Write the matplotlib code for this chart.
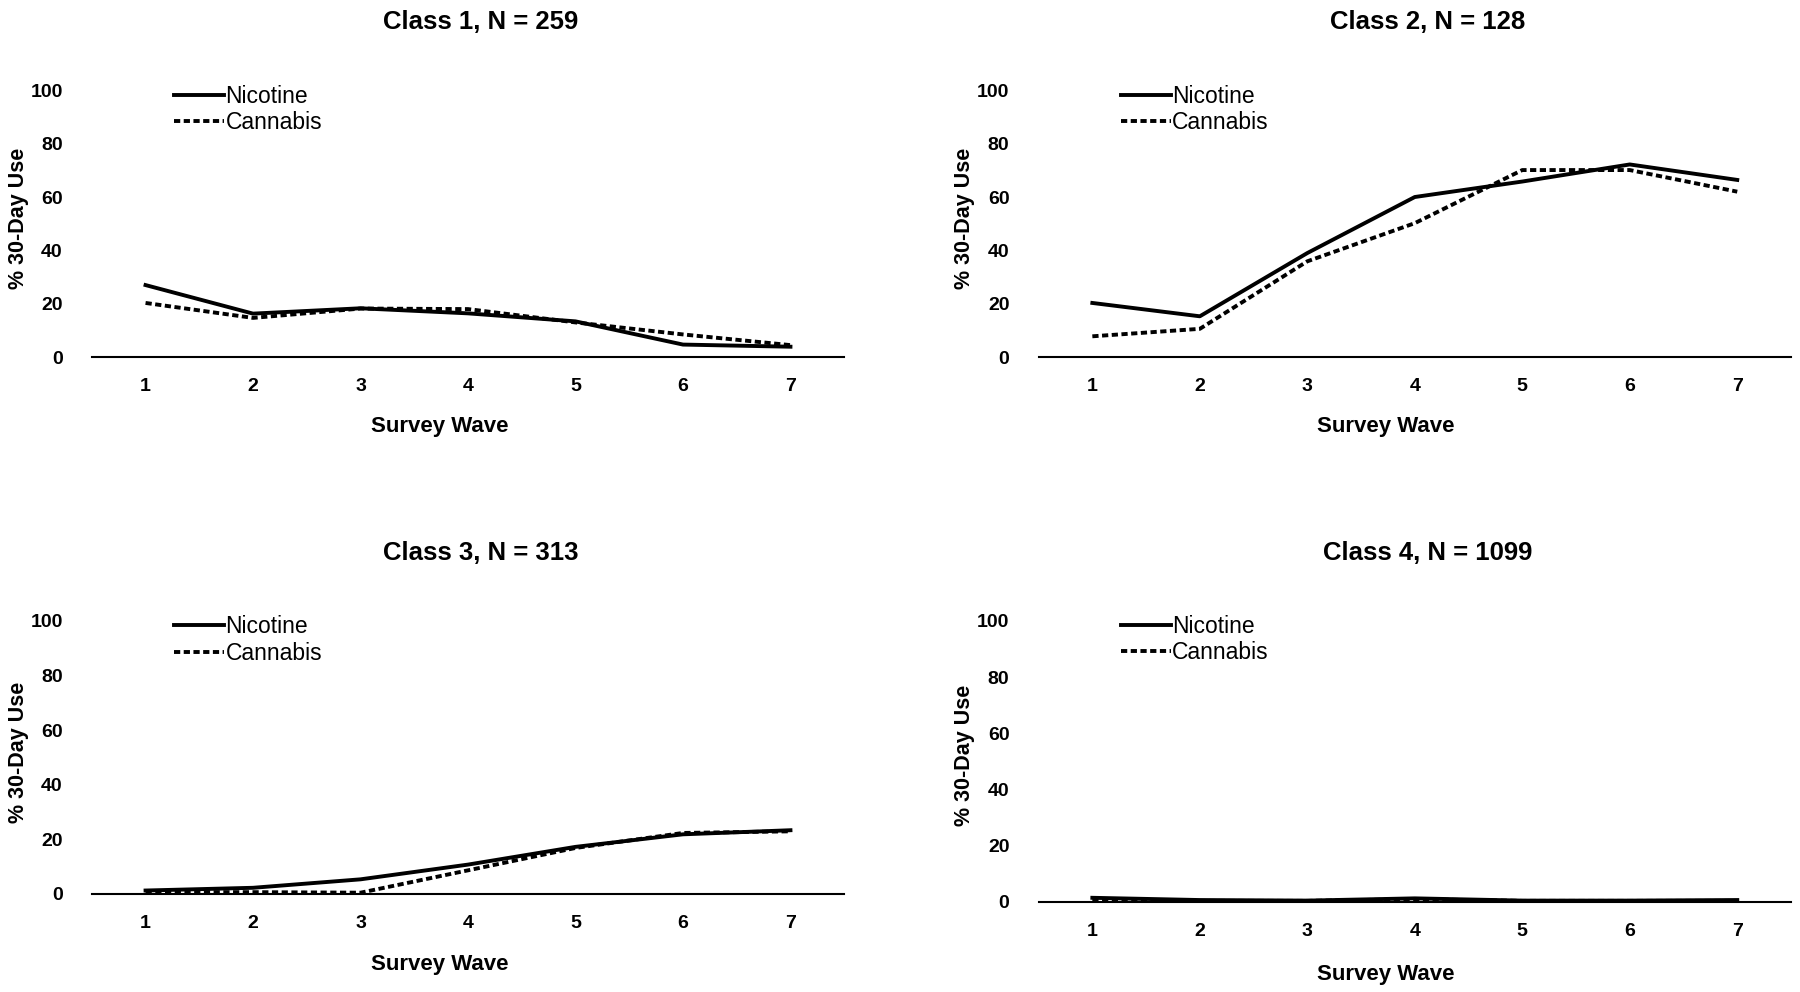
import numpy as np
import matplotlib.pyplot as plt

plt.rcParams['font.family'] = ['Liberation Sans', 'DejaVu Sans']

waves = [1, 2, 3, 4, 5, 6, 7]
titles = ["Class 1, N = 259", "Class 2, N = 128", "Class 3, N = 313", "Class 4, N = 1099"]

# % 30-day use per wave
nicotine_c1 = [27, 16.3, 18.3, 16.4, 13.4, 4.7, 3.9]
cannabis_c1 = [20.3, 14.7, 18.2, 18.0, 13.0, 8.5, 4.5]
nicotine_c2 = [20.3, 15.3, 39, 60, 65.8, 72.2, 66.4]
cannabis_c2 = [7.8, 10.6, 35.9, 50.2, 70.1, 70.1, 62]
nicotine_c3 = [1.2, 2.2, 5.3, 10.7, 17.2, 21.8, 23.3]
cannabis_c3 = [0.6, 0.6, 0.4, 8.6, 16.8, 22.3, 22.9]
nicotine_c4 = [1.4, 0.6, 0.4, 1.2, 0.4, 0.4, 0.6]
cannabis_c4 = [0.8, 0.3, 0.3, 0.9, 0.3, 0.3, 0.3]

nicotine = [nicotine_c1, nicotine_c2, nicotine_c3, nicotine_c4]
cannabis = [cannabis_c1, cannabis_c2, cannabis_c3, cannabis_c4]

# axes boxes [left, bottom, width, height] in figure fractions
boxes = [
    [0.051, 0.640, 0.418, 0.269],
    [0.577, 0.640, 0.418, 0.269],
    [0.051, 0.099, 0.418, 0.275],
    [0.577, 0.091, 0.418, 0.283],
]

fig = plt.figure(figsize=(18, 9.92), dpi=100)

for i in range(4):
    ax = fig.add_axes(boxes[i])
    ax.plot(waves, nicotine[i], color="black", lw=2.8, label="Nicotine")
    ax.plot(waves, cannabis[i], color="black", lw=2.8, ls=(0, (1.6, 0.9)), label="Cannabis")
    ax.set_xlim(0.5, 7.5)
    ax.set_ylim(0, 100)
    ax.set_xticks(waves)
    ax.set_yticks([0, 20, 40, 60, 80, 100])
    for s in ["top", "right", "left"]:
        ax.spines[s].set_visible(False)
    ax.spines["bottom"].set_linewidth(1.5)
    ax.tick_params(length=0, labelsize=14)
    ax.tick_params(axis="x", pad=15)
    ax.tick_params(axis="y", pad=21)
    for lab in ax.get_xticklabels() + ax.get_yticklabels():
        lab.set_fontweight("bold")
    ax.set_title(titles[i], fontsize=18.5, fontweight="bold", pad=44, x=0.517)
    ax.set_xlabel("Survey Wave", fontsize=16, fontweight="bold")
    ax.xaxis.set_label_coords(0.462, -0.222)
    ax.set_ylabel("% 30-Day Use", fontsize=15.5, fontweight="bold", va="center")
    ax.yaxis.set_label_coords(-0.098, 0.52)
    ax.legend(loc="upper left", bbox_to_anchor=(0.097, 1.055), frameon=False,
              fontsize=16.5, handlelength=2.2, handletextpad=0.05, labelspacing=0.15,
              borderaxespad=0)

fig.savefig("out.png", dpi=100)
